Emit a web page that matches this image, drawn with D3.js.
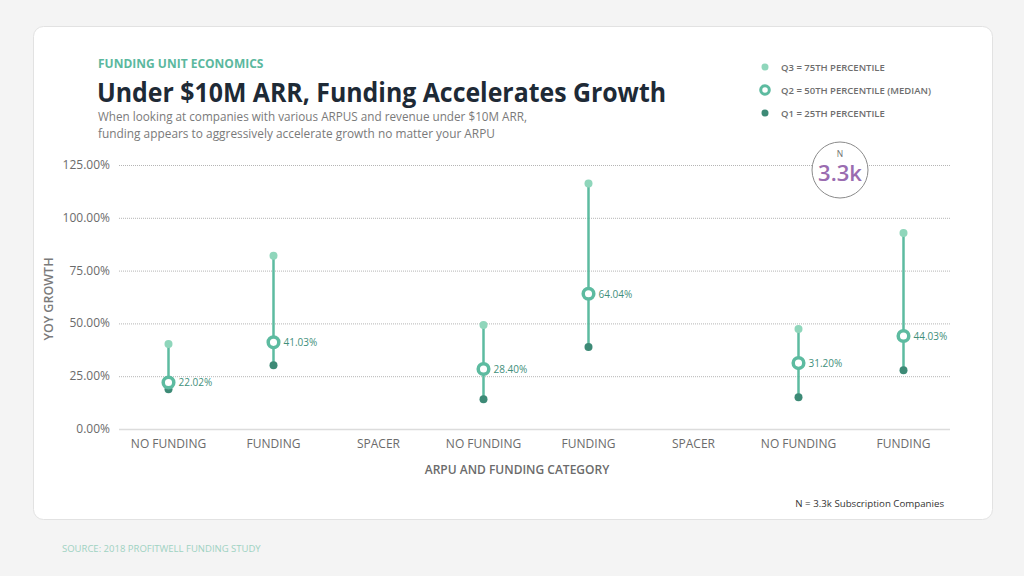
<!DOCTYPE html>
<html>
<head>
<meta charset="utf-8">
<script src="https://cdn.jsdelivr.net/npm/d3@7"></script>
<style>
  body { margin: 0; background: #f4f4f4; font-family: "Open Sans", sans-serif; }
  svg { display: block; }
</style>
</head>
<body>
<svg id="chart" width="1024" height="576"></svg>
<script>
// categories and quartiles (null = spacer column)
var categories = ["NO FUNDING", "FUNDING", "SPACER", "NO FUNDING", "FUNDING", "SPACER", "NO FUNDING", "FUNDING"];
var q3Values = [40.2, 82.0, null, 49.3, 116.2, null, 47.4, 92.8];
var medianValues = [22.02, 41.03, null, 28.40, 64.04, null, 31.20, 44.03];
var q1Values = [18.8, 30.2, null, 14.1, 38.8, null, 15.0, 27.8];
var yTicks = [0, 25, 50, 75, 100, 125];
var legendLabels = ["Q3 = 75TH PERCENTILE", "Q2 = 50TH PERCENTILE (MEDIAN)", "Q1 = 25TH PERCENTILE"];

var teal = "#5dbba0", light = "#8fd6bb", dark = "#3d8a76", labelCol = "#3f8f7b";

var svg = d3.select("#chart");

// card
svg.append("rect")
    .attr("x", 33.5).attr("y", 26.5)
    .attr("width", 959).attr("height", 493)
    .attr("rx", 10)
    .attr("fill", "#fff")
    .attr("stroke", "#e2e2e2");

var x = d3.scaleBand().domain(d3.range(categories.length)).range([116, 956]);
var y = d3.scaleLinear().domain([0, 125]).range([429, 165]);

// grid
svg.append("g").selectAll("line")
    .data(yTicks)
    .enter().append("line")
    .attr("x1", 119).attr("x2", 950)
    .attr("y1", function(d){ return y(d) + 0.5; })
    .attr("y2", function(d){ return y(d) + 0.5; })
    .attr("stroke", function(d){ return d === 0 ? "#dcdcdc" : "#b5b5b5"; })
    .attr("stroke-width", function(d){ return d === 0 ? 1.5 : 1; })
    .attr("stroke-dasharray", function(d){ return d === 0 ? null : "1,1"; });

// y axis labels
svg.append("g").selectAll("text")
    .data(yTicks)
    .enter().append("text")
    .attr("x", 110).attr("y", function(d){ return y(d) + 4; })
    .attr("text-anchor", "end")
    .attr("font-size", 12).attr("fill", "#6b6b6b")
    .text(function(d){ return d3.format(".2f")(d) + "%"; });

svg.append("text")
    .attr("transform", "translate(53,299) rotate(-90)")
    .attr("text-anchor", "middle")
    .attr("font-size", 12.5).attr("font-weight", 600).attr("fill", "#7a7a7a")
    .text("YOY GROWTH");

// x labels
svg.append("g").selectAll("text")
    .data(categories)
    .enter().append("text")
    .attr("x", function(d, i){ return x(i) + x.bandwidth() / 2; })
    .attr("y", 448)
    .attr("text-anchor", "middle")
    .attr("font-size", 12).attr("fill", "#6b6b6b")
    .text(function(d){ return d; });

svg.append("text")
    .attr("x", 517).attr("y", 474)
    .attr("text-anchor", "middle")
    .attr("font-size", 12).attr("font-weight", 600).attr("fill", "#6b6b6b")
    .text("ARPU AND FUNDING CATEGORY");

// whiskers
var rows = categories.map(function(c, i){
    return { i: i, q3: q3Values[i], med: medianValues[i], q1: q1Values[i] };
}).filter(function(d){ return d.med !== null; });

var g = svg.append("g");
var cx = function(d){ return x(d.i) + x.bandwidth() / 2; };

g.selectAll(".stem").data(rows).enter().append("line")
    .attr("x1", cx).attr("x2", cx)
    .attr("y1", function(d){ return y(d.q3); })
    .attr("y2", function(d){ return y(d.q1); })
    .attr("stroke", teal).attr("stroke-width", 2.5);

g.selectAll(".q3").data(rows).enter().append("circle")
    .attr("cx", cx).attr("cy", function(d){ return y(d.q3); })
    .attr("r", 4).attr("fill", light);

g.selectAll(".q1").data(rows).enter().append("circle")
    .attr("cx", cx).attr("cy", function(d){ return y(d.q1); })
    .attr("r", 4).attr("fill", dark);

g.selectAll(".med").data(rows).enter().append("circle")
    .attr("cx", cx).attr("cy", function(d){ return y(d.med); })
    .attr("r", 5.3).attr("fill", "#fff")
    .attr("stroke", teal).attr("stroke-width", 3.5);

g.selectAll(".lab").data(rows).enter().append("text")
    .attr("x", function(d){ return cx(d) + 10; })
    .attr("y", function(d){ return y(d.med) + 4; })
    .attr("font-size", 10).attr("fill", labelCol)
    .text(function(d){ return d3.format(".2f")(d.med) + "%"; });

// headings
svg.append("text")
    .attr("x", 98).attr("y", 68)
    .attr("font-size", 12).attr("font-weight", 700).attr("fill", "#5bb89e")
    .text("FUNDING UNIT ECONOMICS");

svg.append("text")
    .attr("x", 97).attr("y", 102)
    .attr("font-size", 26).attr("font-weight", 700).attr("fill", "#1e2a36")
    .attr("textLength", 569).attr("lengthAdjust", "spacingAndGlyphs")
    .text("Under $10M ARR, Funding Accelerates Growth");

svg.append("text")
    .attr("x", 98).attr("y", 121)
    .attr("font-size", 12.5).attr("fill", "#7a7a7a")
    .attr("textLength", 429).attr("lengthAdjust", "spacingAndGlyphs")
    .text("When looking at companies with various ARPUS and revenue under $10M ARR,");
svg.append("text")
    .attr("x", 98).attr("y", 138)
    .attr("font-size", 12.5).attr("fill", "#7a7a7a")
    .attr("textLength", 397).attr("lengthAdjust", "spacingAndGlyphs")
    .text("funding appears to aggressively accelerate growth no matter your ARPU");

// legend
var leg = svg.append("g").selectAll("g")
    .data(legendLabels)
    .enter().append("g")
    .attr("transform", function(d, i){ return "translate(765," + (67 + i * 23) + ")"; });
leg.append("circle")
    .attr("r", function(d, i){ return i === 1 ? 4.3 : 3.5; })
    .attr("fill", function(d, i){ return i === 1 ? "#fff" : (i === 0 ? light : dark); })
    .attr("stroke", function(d, i){ return i === 1 ? teal : null; })
    .attr("stroke-width", 3);
leg.append("text")
    .attr("x", 16).attr("y", 3.5)
    .attr("font-size", 9.5).attr("font-weight", 600).attr("fill", "#6e6e6e")
    .text(function(d){ return d; });

// N badge
svg.append("circle")
    .attr("cx", 840).attr("cy", 170).attr("r", 28)
    .attr("fill", "#fff").attr("stroke", "#8a8a8a").attr("stroke-width", 1);
svg.append("text")
    .attr("x", 840).attr("y", 157)
    .attr("text-anchor", "middle")
    .attr("font-size", 8.5).attr("fill", "#6e6e6e")
    .text("N");
svg.append("text")
    .attr("x", 840).attr("y", 181)
    .attr("text-anchor", "middle")
    .attr("font-size", 22).attr("font-weight", 600).attr("fill", "#9a6cb0")
    .text("3.3k");

// footnotes
svg.append("text")
    .attr("x", 944).attr("y", 507)
    .attr("text-anchor", "end")
    .attr("font-size", 9.7).attr("fill", "#333")
    .text("N = 3.3k Subscription Companies");

svg.append("text")
    .attr("x", 62).attr("y", 552)
    .attr("font-size", 9.5).attr("fill", "#9fd2c2")
    .text("SOURCE: 2018 PROFITWELL FUNDING STUDY");
</script>
</body>
</html>
